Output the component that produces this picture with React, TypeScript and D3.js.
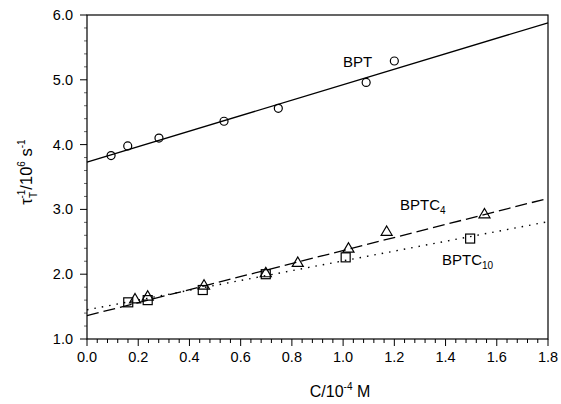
import React from "react";
import * as d3 from "d3";

const bptX = [0.094, 0.159, 0.281, 0.535, 0.747, 1.09, 1.2];
const bptY = [3.83, 3.98, 4.1, 4.36, 4.56, 4.96, 5.29];
const c4X = [0.1875, 0.237, 0.457, 0.698, 0.823, 1.021, 1.17, 1.552];
const c4Y = [1.617, 1.66, 1.83, 2.02, 2.18, 2.4, 2.66, 2.93];
const c10X = [0.161, 0.237, 0.452, 0.698, 1.01, 1.496];
const c10Y = [1.566, 1.6, 1.756, 2.0, 2.26, 2.55];
const bptFit = [3.73, 5.88];
const c4Fit = [1.36, 3.17];
const c10Fit = [1.45, 2.81];
const xTicks = [0, 0.2, 0.4, 0.6, 0.8, 1.0, 1.2, 1.4, 1.6, 1.8];
const yTicks = [1, 2, 3, 4, 5, 6];

export default function App() {
  const W = 561, H = 404;
  const left = 87, right = 548, top = 15, bottom = 339;
  const x = d3.scaleLinear().domain([0, 1.8]).range([left, right]);
  const y = d3.scaleLinear().domain([1, 6]).range([bottom, top]);
  const fitLine = (f: number[]) =>
    d3.line<number>().x((d) => x(d)).y((d, i) => y(f[i]))([0, 1.8]) as string;
  const minorX = d3.range(0, 1.8001, 0.04);
  const minorY = d3.range(1, 6.0001, 0.2);
  const font = "Arial, 'Liberation Sans', sans-serif";
  const tri = (cx: number, cy: number) => {
    const s = 5.5;
    return `M${cx},${cy - s}L${cx + s},${cy + s * 0.7}L${cx - s},${cy + s * 0.7}Z`;
  };
  return (
    <svg width={W} height={H} style={{ position: "absolute", left: 0, top: 0, background: "#fff" }}>
      <rect x={left} y={top} width={right - left} height={bottom - top} fill="none" stroke="#000" strokeWidth={1.2} />
      {minorX.map((v, i) => (
        <line key={"mx" + i} x1={x(v)} x2={x(v)} y1={bottom} y2={bottom + (i % 5 === 0 ? 7 : 4)} stroke="#000" strokeWidth={1} />
      ))}
      {minorY.map((v, i) => (
        <line key={"my" + i} x1={left} x2={left - (i % 5 === 0 ? 7 : 3)} y1={y(v)} y2={y(v)} stroke="#000" strokeWidth={i % 5 === 0 ? 1 : 0.6} />
      ))}
      {xTicks.map((v) => (
        <text key={"xt" + v} x={x(v)} y={362} textAnchor="middle" fontFamily={font} fontSize={14.5} fill="#000">
          {v.toFixed(1)}
        </text>
      ))}
      {yTicks.map((v) => (
        <text key={"yt" + v} x={73} y={y(v) + 5} textAnchor="end" fontFamily={font} fontSize={14.5} fill="#000">
          {v.toFixed(1)}
        </text>
      ))}
      <text x={340} y={397} textAnchor="middle" fontFamily={font} fontSize={16} fill="#000">
        C/10<tspan dy={-7} fontSize={10}>-4</tspan><tspan dy={7}> M</tspan>
      </text>
      <text transform="translate(32,172) rotate(-90)" textAnchor="middle" fontFamily={font} fontSize={16.5} fill="#000">
        τ<tspan dy={5} fontSize={10}>T</tspan>
        <tspan dy={-12} dx={-6} fontSize={10}>-1</tspan>
        <tspan dy={7}>/10</tspan>
        <tspan dy={-7} fontSize={10}>6</tspan>
        <tspan dy={7}> s</tspan>
        <tspan dy={-7} fontSize={10}>-1</tspan>
      </text>
      <path d={fitLine(bptFit)} fill="none" stroke="#000" strokeWidth={1.3} />
      <path d={fitLine(c4Fit)} fill="none" stroke="#000" strokeWidth={1.3} strokeDasharray="12,5" />
      <path d={fitLine(c10Fit)} fill="none" stroke="#000" strokeWidth={1.4} strokeDasharray="1.5,6" />
      {bptX.map((v, i) => (
        <circle key={"c" + i} cx={x(v)} cy={y(bptY[i])} r={4} fill="none" stroke="#000" strokeWidth={1.2} />
      ))}
      {c10X.map((v, i) => (
        <rect key={"s" + i} x={x(v) - 4.5} y={y(c10Y[i]) - 4.5} width={9} height={9} fill="none" stroke="#000" strokeWidth={1.2} />
      ))}
      {c4X.map((v, i) => (
        <path key={"t" + i} d={tri(x(v), y(c4Y[i]))} fill="none" stroke="#000" strokeWidth={1.2} />
      ))}
      <text x={343} y={67} fontFamily={font} fontSize={15} fill="#000">BPT</text>
      <text x={400} y={210} fontFamily={font} fontSize={15} fill="#000">
        BPTC<tspan dy={4} fontSize={10}>4</tspan>
      </text>
      <text x={442} y={265} fontFamily={font} fontSize={15} fill="#000">
        BPTC<tspan dy={4} fontSize={10}>10</tspan>
      </text>
    </svg>
  );
}
